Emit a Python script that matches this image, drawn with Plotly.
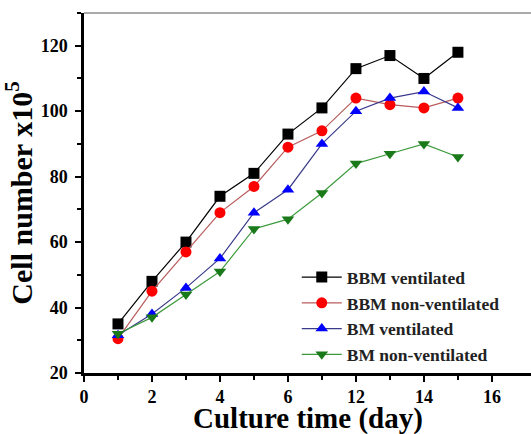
import plotly.graph_objects as go

days = [1, 2, 3, 4, 5, 6, 7, 12, 13, 14, 15]
bbm_vent = [35, 48, 60, 74, 81, 93, 101, 113, 117, 110, 118]
bbm_nonvent = [30.5, 45, 57, 69, 77, 89, 94, 104, 102, 101, 104]
bm_vent = [31.5, 38, 46, 55, 69, 76, 90, 100, 104, 106, 101]
bm_nonvent = [32, 37, 44, 51, 64, 67, 75, 84, 87, 90, 86]

# broken x axis: days after the break are shifted left
BREAK_SHIFT = 4
tick_days = [0, 2, 4, 6, 12, 14, 16]
minor_days = [1, 3, 5, 7, 13, 15]


def pos(d):
    return d if d <= 7 else d - BREAK_SHIFT


xpos = [pos(d) for d in days]

series = [
    ("BBM ventilated", bbm_vent, "black", "black", "square"),
    ("BBM non-ventilated", bbm_nonvent, "#b85c5c", "#ff0000", "circle"),
    ("BM ventilated", bm_vent, "#3a3a8c", "#0000ff", "triangle-up"),
    ("BM non-ventilated", bm_nonvent, "#3c9a3c", "#1a7a1a", "triangle-down"),
]

fig = go.Figure()
for name, ys, lc, mc, sym in series:
    fig.add_trace(go.Scatter(
        x=xpos, y=ys, name=name, mode="lines+markers",
        line=dict(color=lc, width=1.2),
        marker=dict(symbol=sym, size=11, color=mc, line=dict(width=0)),
    ))

font_family = "Liberation Serif"
fig.update_layout(
    width=531, height=434,
    margin=dict(l=84, r=0, t=13, b=61),
    plot_bgcolor="white", paper_bgcolor="white",
    font=dict(family=font_family, color="black"),
    showlegend=True,
    legend=dict(
        x=0.476, y=0.316, xanchor="left", yanchor="top",
        font=dict(family=font_family, size=17.5, color="#222", weight="bold"),
        bgcolor="rgba(0,0,0,0)", tracegroupgap=0, itemwidth=40,
    ),
    xaxis=dict(
        range=[0, 13.15], showgrid=False, zeroline=False, automargin=False,
        showline=True, linecolor="black", linewidth=2.5,
        ticks="outside", tickwidth=2, ticklen=6, tickcolor="black",
        tickvals=[pos(d) for d in tick_days],
        ticktext=[str(d) for d in tick_days],
        tickfont=dict(family=font_family, size=18, color="black", weight="bold"),
        minor=dict(tickvals=[pos(d) for d in minor_days], ticks="outside",
                   ticklen=4, tickwidth=1.5, tickcolor="black"),
    ),
    yaxis=dict(
        range=[20, 130], showgrid=False, zeroline=False, automargin=False,
        showline=True, linecolor="black", linewidth=2.5,
        ticks="outside", tickwidth=2, ticklen=6, tickcolor="black",
        ticklabelstandoff=4,
        tickvals=[20, 40, 60, 80, 100, 120],
        tickfont=dict(family=font_family, size=18, color="black", weight="bold"),
        minor=dict(tickvals=[30, 50, 70, 90, 110, 130], ticks="outside",
                   ticklen=4, tickwidth=1.5, tickcolor="black"),
        title=dict(text="Cell number x10<sup>5</sup>", standoff=6,
                   font=dict(family=font_family, size=30, color="black", weight="bold")),
    ),
)
# x-axis title placed as an annotation so it sits low, like the reference
fig.add_annotation(text="Culture time (day)", xref="paper", yref="paper",
                   x=0.5, y=0, xanchor="center", yanchor="top", yshift=-27,
                   showarrow=False,
                   font=dict(family=font_family, size=29, color="black", weight="bold"))
fig.add_shape(type="line", xref="paper", yref="paper", x0=0, x1=1, y0=1, y1=1,
              line=dict(color="#aaaaaa", width=2))

fig.write_html("out.html", config={"displayModeBar": False},
               post_script="document.body.style.margin='0';")
